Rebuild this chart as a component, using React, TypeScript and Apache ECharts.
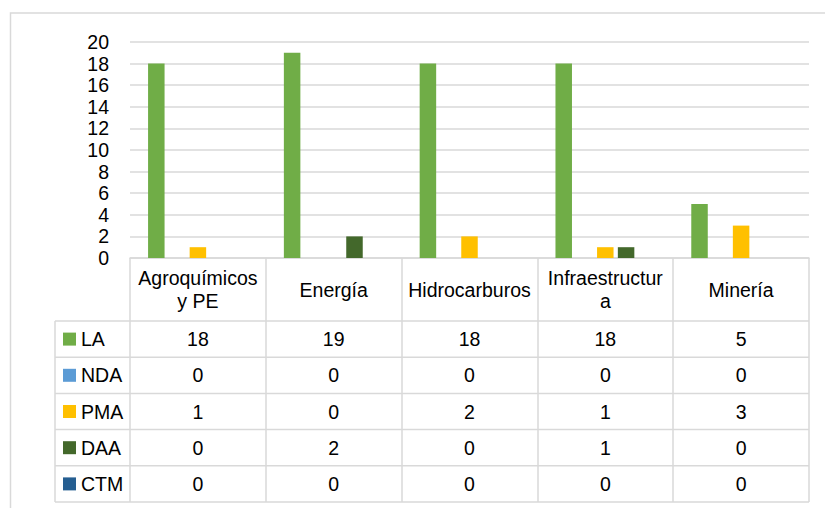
import React, { useEffect, useRef } from 'react';
import * as echarts from 'echarts';

const categories = ['Agroquímicos\ny PE', 'Energía', 'Hidrocarburos', 'Infraestructur\na', 'Minería'];
const seriesNames = ['LA', 'NDA', 'PMA', 'DAA', 'CTM'];
const LA = [18, 19, 18, 18, 5];
const NDA = [0, 0, 0, 0, 0];
const PMA = [1, 0, 2, 1, 3];
const DAA = [0, 2, 0, 1, 0];
const CTM = [0, 0, 0, 0, 0];
const seriesValues = [LA, NDA, PMA, DAA, CTM];
const colors = ['#70AD47', '#5B9BD5', '#FFC000', '#43682B', '#255E91'];
const yMin = 0;
const yMax = 20;
const yInterval = 2;

const FONT = "'Liberation Sans', Arial, sans-serif";
const FS = 19.5;
const GRID_COLOR = '#D9D9D9';

export default function App() {
  const ref = useRef<HTMLDivElement>(null);
  useEffect(() => {
    if (!ref.current) return;
    const chart = echarts.init(ref.current, null, { renderer: 'svg' });
    const W = 825, H = 508;
    const plotLeft = 130, plotRight = 809, plotTop = 42, plotBottom = 258;
    const headerBottom = 321;
    const rowH = 36.2;
    const tableLeft = 55;
    const tableBottom = headerBottom + rowH * seriesNames.length;

    const xAxes: any[] = [
      {
        type: 'category',
        data: categories,
        position: 'bottom',
        axisLine: { show: true, lineStyle: { color: GRID_COLOR, width: 1.5 } },
        axisTick: { show: true, length: tableBottom - plotBottom, interval: 0, lineStyle: { color: GRID_COLOR, width: 1.5 } },
        axisLabel: {
          interval: 0,
          margin: (plotBottom + headerBottom) / 2 - plotBottom,
          verticalAlign: 'middle',
          lineHeight: 23,
          fontSize: FS,
          fontFamily: FONT,
          color: '#000',
          align: 'center',
        },
      },
    ];
    seriesNames.forEach((name, i) => {
      const center = headerBottom + rowH * (i + 0.5);
      xAxes.push({
        type: 'category',
        data: seriesValues[i].map((v) => String(v)),
        position: 'bottom',
        offset: center - plotBottom,
        axisLine: { show: false },
        axisTick: { show: false },
        axisLabel: {
          interval: 0,
          margin: 0,
          verticalAlign: 'middle',
          fontSize: FS,
          fontFamily: FONT,
          color: '#000',
        },
      });
    });

    const graphics: any[] = [
      {
        type: 'rect',
        shape: { x: 10.5, y: 13, width: W, height: H },
        style: { fill: 'none', stroke: GRID_COLOR, lineWidth: 1.5 },
        silent: true,
      },
      {
        type: 'line',
        shape: { x1: tableLeft, y1: headerBottom, x2: tableLeft, y2: tableBottom },
        style: { stroke: GRID_COLOR, lineWidth: 1.5 },
        silent: true,
      },
    ];
    for (let i = 0; i <= seriesNames.length; i++) {
      const y = headerBottom + rowH * i;
      graphics.push({
        type: 'line',
        shape: { x1: tableLeft, y1: y, x2: plotRight, y2: y },
        style: { stroke: GRID_COLOR, lineWidth: 1.5 },
        silent: true,
      });
    }

    chart.setOption({
      animation: false,
      backgroundColor: '#fff',
      color: colors,
      textStyle: { fontFamily: FONT },
      grid: { left: plotLeft, right: W - plotRight, top: plotTop, bottom: H - plotBottom, containLabel: false },
      legend: {
        show: true,
        orient: 'vertical',
        left: 63,
        top: headerBottom + rowH / 2 - 11,
        padding: 0,
        itemGap: rowH - 22,
        itemWidth: 13,
        itemHeight: 13,
        icon: 'rect',
        data: seriesNames,
        textStyle: { fontSize: FS, fontFamily: FONT, color: '#000', lineHeight: 22 },
      },
      xAxis: xAxes,
      yAxis: {
        type: 'value',
        min: yMin,
        max: yMax,
        interval: yInterval,
        axisLine: { show: false },
        axisTick: { show: false },
        splitLine: { lineStyle: { color: GRID_COLOR, width: 1.5 } },
        axisLabel: {
          fontSize: FS,
          lineHeight: 20,
          fontFamily: FONT,
          color: '#000',
          margin: 21,
          showMinLabel: true,
          showMaxLabel: true,
          hideOverlap: false,
        },
      },
      series: seriesNames.map((name, i) => ({
        name,
        type: 'bar',
        data: seriesValues[i],
        barWidth: 16.5,
        barGap: '26%',
        itemStyle: { color: colors[i] },
      })),
      graphic: graphics,
    });
    return () => chart.dispose();
  }, []);
  return (
    <div
      ref={ref}
      style={{ position: 'fixed', left: 0, top: 0, width: 825, height: 508, background: '#fff' }}
    />
  );
}
